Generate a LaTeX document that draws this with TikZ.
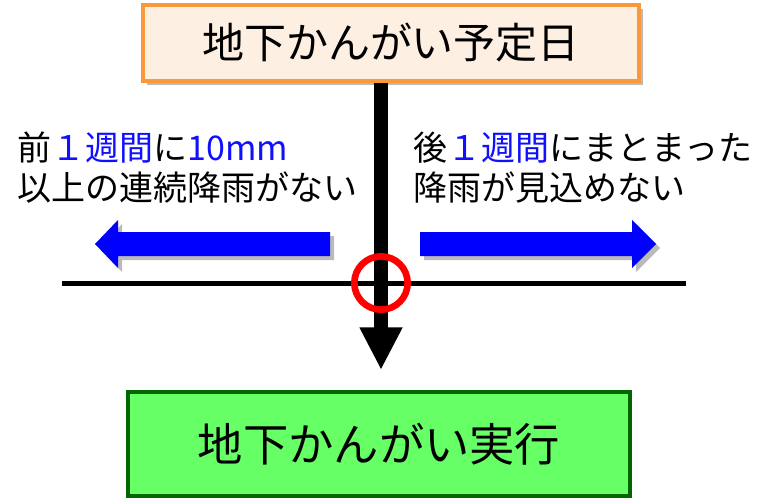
\documentclass[tikz,border=0pt]{standalone}
\usepackage{fontspec}
\setmainfont{Noto Sans CJK JP}
\usetikzlibrary{arrows.meta,shadows,positioning}
\definecolor{planorange}{HTML}{F89A3C}
\definecolor{planfill}{HTML}{FDEFE2}
\definecolor{doneborder}{HTML}{006600}
\definecolor{donefill}{HTML}{66FF66}
\definecolor{textblue}{HTML}{1010FF}

\begin{document}
\begin{tikzpicture}[x=0.75pt, y=-0.75pt,
  box/.style={draw, line width=3pt},
  note/.style={align=left, anchor=west, font=\fontsize{25.5}{30}\selectfont},
  softshadow/.style={drop shadow={shadow xshift=3pt, shadow yshift=-3pt, opacity=.45, fill=black!60}}]
            \useasboundingbox (0,0) rectangle (758,500);

            \node [box, draw=planorange, fill=planfill, minimum width=372pt, minimum height=57pt, softshadow] (plan) at (391,43) {\fontsize{31.5}{36}\selectfont 地下かんがい予定日};
            \node [box, draw=doneborder, fill=donefill, minimum width=376pt, minimum height=78pt] (done) at (379,444) {\fontsize{34}{40}\selectfont 地下かんがい実行};

            \node [note] (before) at (13,168) {前\textcolor{textblue}{１週間}に\textcolor{textblue}{10mm}\\以上の連続降雨がない};
            \node [note] (after) at (409,168) {後\textcolor{textblue}{１週間}にまとまった\\降雨が見込めない};

            % blue arrows
            \fill [blue, softshadow] (330,232) -- (118,232) -- (118,220) -- (95,244) -- (118,268) -- (118,256) -- (330,256) -- cycle;
            \fill [blue, softshadow] (420,232) -- (632,232) -- (632,220) -- (656,244) -- (632,268) -- (632,256) -- (420,256) -- cycle;

            \coordinate (lineL) at (62,283);
            \coordinate (lineR) at (686,283);
            \coordinate (drop) at (381,370);

            \draw [line width=3.75pt] (lineL) -- (lineR);
            \draw [line width=10pt, -{Triangle[length=32pt, width=30pt]}] (drop |- plan.south) -- (drop);

            \node [draw=red, circle, line width=5pt, minimum size=40pt] (cross) at (381,283) {};
\end{tikzpicture}
\end{document}
